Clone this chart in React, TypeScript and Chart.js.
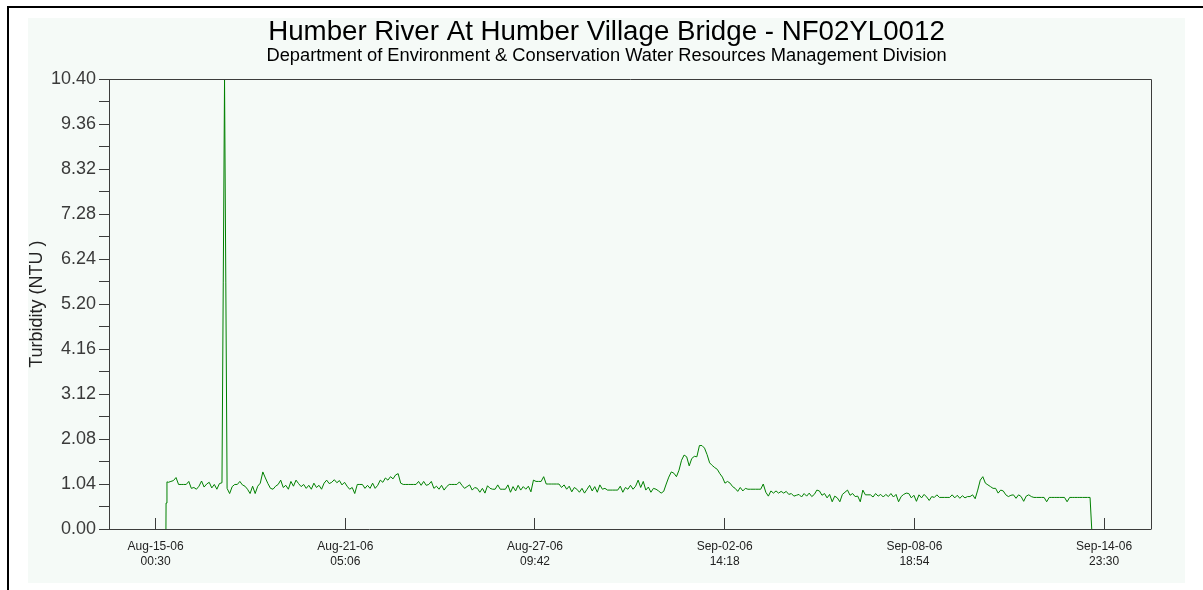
import React, { useEffect, useRef } from 'react';
import { Chart, registerables } from 'chart.js';

Chart.register(...registerables);

const CHART_TITLE = 'Humber River At Humber Village Bridge - NF02YL0012';
const CHART_SUBTITLE = 'Department of Environment & Conservation Water Resources Management Division';
const Y_AXIS_TITLE = 'Turbidity (NTU )';

// x values are hours after Aug-15-06 00:30
const X_MIN_HOUR = -36.5;
const X_MAX_HOUR = 779.5;
const xTickHours = [0, 148.6, 297.2, 445.8, 594.4, 743.0];
const xTickDates = ['Aug-15-06', 'Aug-21-06', 'Aug-27-06', 'Sep-02-06', 'Sep-08-06', 'Sep-14-06'];
const xTickTimes = ['00:30', '05:06', '09:42', '14:18', '18:54', '23:30'];

const yTickValues = [0, 0.52, 1.04, 1.56, 2.08, 2.6, 3.12, 3.64, 4.16, 4.68, 5.2, 5.72, 6.24, 6.76, 7.28, 7.8, 8.32, 8.84, 9.36, 9.88, 10.4];
const yTickLabels = ['0.00', '', '1.04', '', '2.08', '', '3.12', '', '4.16', '', '5.20', '', '6.24', '', '7.28', '', '8.32', '', '9.36', '', '10.40'];

// logger readings every 2 hours starting 10 h after Aug-15-06 00:30
const SAMPLE_START_HOUR = 10;
const SAMPLE_STEP_HOURS = 2;
const turbidity = [
  1.08, 1.10, 1.12, 1.19, 1.03, 1.03, 1.03, 1.03, 1.10, 0.94,
  0.96, 0.92, 0.99, 1.11, 0.97, 1.04, 1.08, 0.95, 1.03, 0.92,
  1.05, 1.07, 10.40, 0.94, 0.82, 0.98, 1.03, 1.03, 1.10, 1.02,
  0.99, 0.92, 0.82, 0.99, 0.82, 0.99, 1.06, 1.32, 1.18, 1.05,
  0.94, 0.92, 0.99, 1.03, 1.13, 0.96, 1.01, 0.92, 1.10, 0.99,
  1.13, 1.05, 0.98, 1.03, 0.94, 1.01, 0.92, 1.06, 0.96, 1.01,
  0.92, 1.06, 1.13, 1.05, 1.08, 1.14, 1.07, 1.12, 1.02, 1.08,
  0.99, 0.92, 0.96, 0.82, 1.03, 1.03, 1.03, 0.94, 1.01, 0.94,
  1.06, 0.94, 1.01, 1.13, 1.08, 1.18, 1.13, 1.21, 1.16, 1.25,
  1.28, 1.06, 1.03, 1.03, 1.03, 1.03, 1.03, 1.03, 1.10, 1.01,
  1.10, 1.01, 1.03, 1.10, 0.94, 0.99, 0.92, 1.01, 0.90, 0.98,
  1.03, 1.03, 1.03, 1.03, 1.09, 1.01, 0.94, 0.98, 1.02, 0.90,
  0.96, 0.94, 0.85, 0.94, 0.83, 1.00, 0.94, 0.92, 0.92, 1.02,
  0.92, 0.92, 0.92, 1.02, 0.85, 0.98, 0.88, 1.01, 0.90, 0.98,
  0.92, 0.99, 0.86, 1.13, 1.10, 1.10, 1.10, 1.21, 1.04, 1.04,
  1.04, 1.04, 1.04, 1.04, 0.96, 1.02, 0.92, 0.99, 0.86, 0.96,
  0.92, 0.85, 0.94, 0.83, 0.92, 1.01, 0.88, 0.98, 0.85, 1.02,
  0.92, 0.94, 0.90, 0.90, 0.90, 0.90, 0.90, 0.99, 0.85, 0.96,
  0.92, 1.01, 0.92, 0.99, 1.13, 0.96, 1.10, 0.90, 0.97, 0.85,
  0.94, 0.92, 0.88, 0.83, 0.87, 1.04, 1.20, 1.32, 1.29, 1.21,
  1.36, 1.59, 1.71, 1.67, 1.46, 1.63, 1.68, 1.67, 1.93, 1.93,
  1.87, 1.72, 1.53, 1.47, 1.42, 1.38, 1.28, 1.20, 1.06, 1.10,
  1.06, 0.98, 0.94, 0.87, 0.96, 0.88, 0.94, 0.92, 0.92, 0.92,
  0.92, 0.92, 0.92, 1.04, 0.85, 0.76, 0.88, 0.83, 0.88, 0.83,
  0.87, 0.83, 0.87, 0.80, 0.82, 0.76, 0.78, 0.80, 0.74, 0.82,
  0.76, 0.83, 0.75, 0.80, 0.90, 0.88, 0.78, 0.82, 0.72, 0.80,
  0.63, 0.76, 0.72, 0.63, 0.80, 0.85, 0.90, 0.78, 0.82, 0.75,
  0.76, 0.63, 0.90, 0.79, 0.79, 0.79, 0.74, 0.82, 0.76, 0.80,
  0.74, 0.80, 0.75, 0.82, 0.74, 0.80, 0.63, 0.75, 0.80, 0.83,
  0.82, 0.72, 0.78, 0.64, 0.79, 0.72, 0.80, 0.74, 0.66, 0.75,
  0.73, 0.79, 0.73, 0.73, 0.73, 0.73, 0.73, 0.79, 0.72, 0.78,
  0.71, 0.77, 0.72, 0.75, 0.75, 0.79, 0.70, 0.90, 1.13, 1.21,
  1.06, 1.02, 0.98, 0.94, 0.94, 0.83, 0.90, 0.88, 0.79, 0.75,
  0.78, 0.79, 0.71, 0.79, 0.75, 0.64, 0.76, 0.79, 0.75, 0.73,
  0.73, 0.73, 0.73, 0.73, 0.63, 0.73, 0.73, 0.73, 0.73, 0.73,
  0.73, 0.73, 0.63, 0.73, 0.73, 0.73, 0.73, 0.73, 0.73, 0.73,
  0.73, 0.73,
];

// extra readings: record start, spike shoulders, record end
const eventHours = [8.1, 8.2, 8.9, 53, 55, 733.3];
const eventValues = [0, 0.6, 1.09, 5.71, 5.71, 0];

const FONT = 'Liberation Sans, Arial, Helvetica, sans-serif';
const LINE_COLOR = '#008000';
const AXIS_COLOR = '#3c3c3c';
const PANEL_COLOR = '#f5faf7';

const framePlugin = {
  id: 'frame',
  beforeDraw(chart: any) {
    const ctx = chart.ctx;
    ctx.save();
    ctx.fillStyle = '#ffffff';
    ctx.fillRect(0, 0, chart.width, chart.height);
    ctx.fillStyle = '#000000';
    ctx.fillRect(7, 6, chart.width - 7, 2);
    ctx.fillRect(7, 6, 2, chart.height - 6);
    ctx.fillStyle = PANEL_COLOR;
    ctx.fillRect(28, 18, 1157, 565);
    ctx.restore();
  },
  afterDraw(chart: any) {
    const { ctx, chartArea } = chart;
    ctx.save();
    ctx.strokeStyle = AXIS_COLOR;
    ctx.lineWidth = 1;
    const l = Math.round(chartArea.left) + 0.5;
    const t = Math.round(chartArea.top) + 0.5;
    const r = Math.round(chartArea.right) + 0.5;
    const b = Math.round(chartArea.bottom) + 0.5;
    ctx.beginPath();
    ctx.moveTo(l, t);
    ctx.lineTo(r, t);
    ctx.lineTo(r, b);
    ctx.stroke();
    ctx.restore();
  },
};

export default function App() {
  const canvasRef = useRef<HTMLCanvasElement | null>(null);

  useEffect(() => {
    const canvas = canvasRef.current;
    if (!canvas) return;

    const points = [
      ...turbidity.map((v, i) => ({ x: SAMPLE_START_HOUR + i * SAMPLE_STEP_HOURS, y: v })),
      ...eventHours.map((h, i) => ({ x: h, y: eventValues[i] })),
    ].sort((a, b) => a.x - b.x);

    const chart = new Chart(canvas, {
      type: 'line',
      data: {
        datasets: [
          {
            data: points,
            borderColor: LINE_COLOR,
            borderWidth: 1,
            pointRadius: 0,
            tension: 0,
            fill: false,
          },
        ],
      },
      options: {
        animation: false,
        responsive: false,
        devicePixelRatio: 1,
        layout: { padding: { top: 19, left: 20, right: 10, bottom: 21 } },
        plugins: {
          legend: { display: false },
          tooltip: { enabled: false },
          title: {
            display: true,
            text: CHART_TITLE,
            color: '#000000',
            font: { family: FONT, size: 27.7, weight: 'normal', lineHeight: 1 },
            padding: { top: 0, bottom: 0 },
          },
          subtitle: {
            display: true,
            text: CHART_SUBTITLE,
            color: '#000000',
            font: { family: FONT, size: 18.3, weight: 'normal', lineHeight: 1 },
            padding: { top: 0.3, bottom: 14 },
          },
        },
        scales: {
          x: {
            type: 'linear',
            min: X_MIN_HOUR,
            max: X_MAX_HOUR,
            afterBuildTicks: (scale: any) => {
              scale.ticks = xTickHours.map((v) => ({ value: v }));
            },
            afterFit: (scale: any) => {
              scale.height = 40;
            },
            ticks: {
              autoSkip: false,
              maxRotation: 0,
              padding: 21,
              color: '#222222',
              font: { family: FONT, size: 12, lineHeight: 1.25 },
              callback: (_v: any, i: number) => [xTickDates[i], xTickTimes[i]],
            },
            grid: {
              drawOnChartArea: false,
              tickLength: -11,
              tickColor: AXIS_COLOR,
              color: AXIS_COLOR,
            },
            border: { color: AXIS_COLOR, width: 1 },
          },
          y: {
            type: 'linear',
            position: 'left',
            min: 0,
            max: 10.4,
            afterBuildTicks: (scale: any) => {
              scale.ticks = yTickValues.map((v) => ({ value: v }));
            },
            afterFit: (scale: any) => {
              scale.width = 89;
            },
            ticks: {
              autoSkip: false,
              padding: 3,
              color: '#3a3a3a',
              font: { family: FONT, size: 18 },
              callback: (_v: any, i: number) => yTickLabels[i],
            },
            grid: {
              drawOnChartArea: false,
              tickLength: 10,
              tickColor: AXIS_COLOR,
              color: AXIS_COLOR,
            },
            border: { color: AXIS_COLOR, width: 1 },
            title: {
              display: true,
              text: Y_AXIS_TITLE,
              color: '#222222',
              font: { family: FONT, size: 18, lineHeight: 1.2 },
              padding: { top: 6, bottom: 0 },
            },
          },
          // empty right margin so the titles centre over the panel
          yMargin: {
            type: 'linear',
            position: 'right',
            min: 0,
            max: 10.4,
            afterFit: (scale: any) => {
              scale.width = 42.3;
            },
            ticks: { display: false },
            grid: { display: false, drawTicks: false },
            border: { display: false },
          },
        },
      },
      plugins: [framePlugin],
    } as any);

    return () => chart.destroy();
  }, []);

  return (
    <div style={{ position: 'absolute', left: 0, top: 0, width: 1203, height: 590 }}>
      <canvas ref={canvasRef} width={1203} height={590} />
    </div>
  );
}
